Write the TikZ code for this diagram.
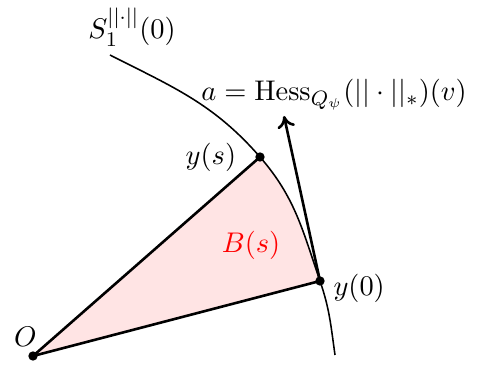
\documentclass[tikz,border=0pt]{standalone}
\usepackage{tikz}
\usepackage{xcolor}
\usetikzlibrary{arrows.meta,positioning}
\definecolor{Region}{HTML}{FFE4E4}
\definecolor{Ink}{HTML}{000000}
\definecolor{RegionText}{HTML}{FF0000}
\tikzset{
  dot/.style={circle,fill=Ink,inner sep=0pt,minimum size=3.6pt},
  side/.style={draw=Ink,line width=1pt},
  sphere/.style={draw=Ink,line width=0.6pt},
  vec/.style={-{To[length=1.6mm,width=2.4mm]},draw=Ink,line width=1pt},
  lbl/.style={inner sep=1pt,text=Ink,font=\fontsize{11}{13}\selectfont}
}

\begin{document}
\begin{tikzpicture}[x=0.01353cm,y=0.01353cm,node distance=3pt]
  \useasboundingbox (0,0) rectangle (477,365);
  % points of the picture
  \coordinate (O) at (33,9);
  \coordinate (ys) at (260,208);
  \coordinate (y0) at (320,84);
  \coordinate (top) at (110,310);
  \coordinate (bot) at (335,10);
  \coordinate (tip) at (284,249);
  % shaded sector
  \fill[Region] (O) -- (ys) to[out=-49,in=109] (y0) -- cycle;
  % unit sphere
  \draw[sphere] (top) to[out=-27,in=131] (ys) to[out=-49,in=109] (y0) to[out=-71,in=98] (bot);
  \draw[side] (O) -- (ys);
  \draw[side] (O) -- (y0);
  \draw[vec] (y0) -- (tip);
  \node[dot] (dO) at (O) {};
  \node[dot] (dys) at (ys) {};
  \node[dot] (dy0) at (y0) {};
  % labels
  \node[lbl,above left=1pt and -4pt of dO] (lO) {$O$};
  \node[lbl,left=6pt of dys] (lys) {$y(s)$};
  \node[lbl,right=2pt of dy0,yshift=-3pt] (ly0) {$y(0)$};
  \node[lbl,text=RegionText] (lB) at (251,120) {$B(s)$};
  \node[lbl,above right=1pt and -33pt of tip] (la) {$a=\mathrm{Hess}_{Q_\psi}(||\cdot||_*)(v)$};
  \node[lbl,above=2pt of top,xshift=8.5pt] (lS) {$S_1^{||\cdot||}(0)$};
\end{tikzpicture}
\end{document}
